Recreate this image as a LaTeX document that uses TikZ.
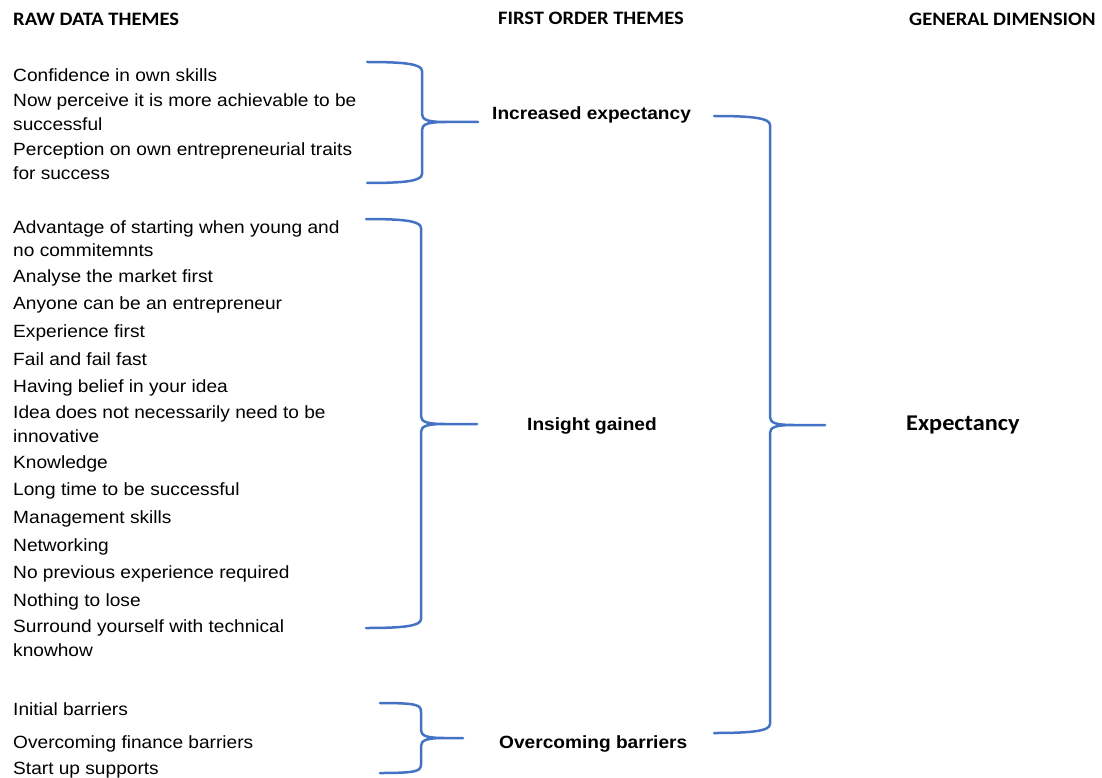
\documentclass[tikz,border=0pt]{standalone}
\usepackage{fontspec}
\setmainfont{Liberation Sans}[FakeStretch=1.08]
\newfontfamily\headfont{Carlito}[FakeStretch=1.08]
\begin{document}
\begin{tikzpicture}[x=1pt,y=-1pt,
  item/.style={anchor=base west,inner sep=0pt,font=\fontsize{17.7}{20}\selectfont},
  theme/.style={anchor=base west,inner sep=0pt,font=\fontsize{17.7}{20}\selectfont\bfseries},
  head/.style={anchor=base west,inner sep=0pt,font=\headfont\fontsize{19}{22}\selectfont\bfseries},
  dimension/.style={anchor=base west,inner sep=0pt,font=\headfont\fontsize{22.5}{26}\selectfont\bfseries},
  bracket/.style={draw=braceblue,line width=2.5pt,line cap=round,line join=round}]
\definecolor{braceblue}{HTML}{4472C4}
\useasboundingbox (0,0) rectangle (1102,778);

% curly brace: #1 free ends x, #2 spine x, #3 tip x, #4 top y, #5 tip y, #6 bottom y
\newcommand\drawbrace[6]{%
  \draw[bracket] (#1,#4) .. controls ({#1+38},#4) and (#2,{#4+2}) .. (#2,{#4+9})
    -- (#2,{#5-8}) .. controls (#2,{#5-2}) and ({#2+6},#5) .. ({#2+24},#5) -- (#3,#5)
    -- ({#2+24},#5) .. controls ({#2+6},#5) and (#2,{#5+2}) .. (#2,{#5+8})
    -- (#2,{#6-9}) .. controls (#2,{#6-2}) and ({#1+38},#6) .. (#1,#6);}

% column headings
\node[head] (h1) at (13,26) {RAW DATA THEMES};
\node[head] (h2) at (498,25) {FIRST ORDER THEMES};
\node[head] (h3) at (909,26) {GENERAL DIMENSION};

% raw data themes
\node[item] (r1)  at (13,81.5) {Confidence in own skills};
\node[item] (r2a) at (13,107) {Now perceive it is more achievable to be};
\node[item] (r2b) at (13,131) {successful};
\node[item] (r3a) at (13,156) {Perception on own entrepreneurial traits};
\node[item] (r3b) at (13,179.5) {for success};

\node[item] (s1a) at (13,233) {Advantage of starting when young and};
\node[item] (s1b) at (13,256) {no commitemnts};
\node[item] (s2)  at (13,282) {Analyse the market first};
\node[item] (s3)  at (13,309) {Anyone can be an entrepreneur};
\node[item] (s4)  at (13,337) {Experience first};
\node[item] (s5)  at (13,365) {Fail and fail fast};
\node[item] (s6)  at (13,392.5) {Having belief in your idea};
\node[item] (s7a) at (13,418) {Idea does not necessarily need to be};
\node[item] (s7b) at (13,442) {innovative};
\node[item] (s8)  at (13,468) {Knowledge};
\node[item] (s9)  at (13,495) {Long time to be successful};
\node[item] (s10) at (13,523) {Management skills};
\node[item] (s11) at (13,551) {Networking};
\node[item] (s12) at (13,578) {No previous experience required};
\node[item] (s13) at (13,606) {Nothing to lose};
\node[item] (s14a) at (13,632) {Surround yourself with technical};
\node[item] (s14b) at (13,656.5) {knowhow};

\node[item] (b1) at (13,715) {Initial barriers};
\node[item] (b2) at (13,748) {Overcoming finance barriers};
\node[item] (b3) at (13,774) {Start up supports};

% first order themes
\node[theme] (t1) at (492,120) {Increased expectancy};
\node[theme] (t2) at (527,430) {Insight gained};
\node[theme] (t3) at (499,748) {Overcoming barriers};

% general dimension
\node[dimension] (d1) at (906,430) {Expectancy};

% braces grouping the themes
\drawbrace{367}{422}{478}{62}{122}{183}
\drawbrace{366}{421}{477}{219}{424}{628}
\drawbrace{380}{421}{463}{703}{738}{773}
\drawbrace{714}{770}{825}{116}{425}{733}
\end{tikzpicture}
\end{document}
